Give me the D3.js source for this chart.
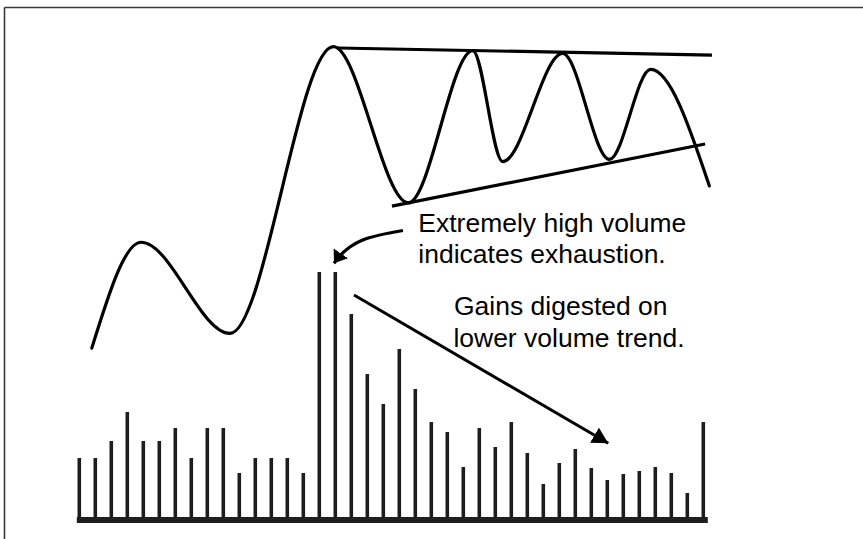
<!DOCTYPE html>
<html>
<head>
<meta charset="utf-8">
<script src="https://cdn.jsdelivr.net/npm/d3@7"></script>
<style>
  html, body { margin: 0; padding: 0; background: #fff; }
  svg { display: block; }
</style>
</head>
<body>
<svg id="chart" width="863" height="539"></svg>
<script>
// ---- Data ----
// Volume bars (one per session, 40 sessions)
const sessions = d3.range(40);
const volume = [62, 62, 79, 108, 79, 79, 92, 62, 92, 92,
                47, 62, 62, 62, 47, 248, 248, 206, 146, 116,
                171, 131, 98, 88, 53, 92, 73, 98, 67, 36,
                57, 71, 52, 40, 46, 49, 53, 47, 27, 98];
// Price path: session position and price level at turning points
const priceT = [0.78, 3.86, 9.42, 15.88, 20.56, 24.59, 26.46, 30.21, 33.13, 35.71, 39.38];
const priceV = [3.7, 36.8, 8.3, 97.9, 49.1, 96.7, 62.0, 95.8, 62.7, 90.8, 54.4];
// Triangle trend lines (session, price)
const upperLineT = [16.17, 39.54];
const upperLineV = [97.5, 95.3];
const lowerLineT = [19.54, 39.11];
const lowerLineV = [48.1, 67.5];
// Annotations
const noteLines = ["Extremely high volume", "indicates exhaustion.", "Gains digested on", "lower volume trend."];
const noteT = [21.19, 21.19, 23.42, 23.38];
const noteV = [40.09, 30.22, 14.06, 4.16];
// Curved arrow (start, ctrl1, ctrl2, tip) and straight arrow (start, tip)
const curvedArrowT = [20.23, 18.17, 16.92, 15.92];
const curvedArrowV = [40.47, 38.75, 37.5, 30.22];
const straightArrowT = [17.17, 33.06];
const straightArrowV = [20.31, -26.03];

// ---- Scales ----
const svg = d3.select("#chart");
const x = d3.scaleLinear().domain([0, 39]).range([79.3, 703.3]);
const yVol = d3.scaleLinear().domain([0, 250]).range([520, 270]);
const yPrice = d3.scaleLinear().domain([0, 100]).range([360, 40]);

// ---- Frame (left and top rules) ----
svg.append("line").attr("x1", 4.5).attr("y1", 7.5).attr("x2", 4.5).attr("y2", 539)
  .attr("stroke", "#3a3a3a").attr("stroke-width", 1.6);
svg.append("line").attr("x1", 4.5).attr("y1", 7.5).attr("x2", 863).attr("y2", 7.5)
  .attr("stroke", "#3a3a3a").attr("stroke-width", 1.6);

// ---- Markers ----
const defs = svg.append("defs");
defs.append("marker").attr("id", "headA")
  .attr("viewBox", "0 -9 12 18").attr("refX", 12).attr("refY", 0)
  .attr("markerUnits", "userSpaceOnUse").attr("markerWidth", 12).attr("markerHeight", 18)
  .attr("orient", "auto")
  .append("path").attr("d", "M0,-8.7L12,0L0,8.7Z").attr("fill", "#000");
defs.append("marker").attr("id", "headB")
  .attr("viewBox", "0 -9 16 18").attr("refX", 16).attr("refY", 0)
  .attr("markerUnits", "userSpaceOnUse").attr("markerWidth", 16).attr("markerHeight", 18)
  .attr("orient", "auto")
  .append("path").attr("d", "M0,-8.8L16,0L0,8.8Z").attr("fill", "#000");

// ---- Volume bars ----
svg.append("g").selectAll("rect").data(sessions).join("rect")
  .attr("x", i => x(i) - 1.8)
  .attr("width", 3.6)
  .attr("y", i => yVol(volume[i]))
  .attr("height", i => yVol(0) - yVol(volume[i]))
  .attr("fill", "#1e1e1e");
// baseline
svg.append("rect")
  .attr("x", x(0) - 2.5).attr("width", x(39) - x(0) + 7)
  .attr("y", yVol(0) - 3).attr("height", 6)
  .attr("fill", "#1e1e1e");

// ---- Price curve ----
const pricePts = priceT.map((t, i) => [x(t), yPrice(priceV[i])]);
svg.append("path")
  .attr("d", d3.line().curve(d3.curveMonotoneX)(pricePts))
  .attr("fill", "none").attr("stroke", "#000").attr("stroke-width", 3.2)
  .attr("stroke-linecap", "round").attr("stroke-linejoin", "round");

// ---- Trend lines ----
[[upperLineT, upperLineV], [lowerLineT, lowerLineV]].forEach(([T, V]) => {
  svg.append("line")
    .attr("x1", x(T[0])).attr("y1", yPrice(V[0]))
    .attr("x2", x(T[1])).attr("y2", yPrice(V[1]))
    .attr("stroke", "#000").attr("stroke-width", 3.2);
});

// ---- Arrows ----
const cp = curvedArrowT.map((t, i) => [x(t), yPrice(curvedArrowV[i])]);
svg.append("path")
  .attr("d", `M${cp[0]}C${cp[1]} ${cp[2]} ${cp[3]}`)
  .attr("fill", "none").attr("stroke", "#000").attr("stroke-width", 3.2)
  .attr("marker-end", "url(#headA)");
svg.append("line")
  .attr("x1", x(straightArrowT[0])).attr("y1", yPrice(straightArrowV[0]))
  .attr("x2", x(straightArrowT[1])).attr("y2", yPrice(straightArrowV[1]))
  .attr("stroke", "#000").attr("stroke-width", 3)
  .attr("marker-end", "url(#headB)");

// ---- Notes ----
noteLines.forEach((s, i) => {
  svg.append("g")
    .attr("transform", `translate(${x(noteT[i])},${yPrice(noteV[i])}) scale(1.06,1)`)
    .append("text")
    .attr("font-family", "'Liberation Sans', Arial, sans-serif")
    .attr("font-size", 25)
    .attr("fill", "#000")
    .text(s);
});
</script>
</body>
</html>
